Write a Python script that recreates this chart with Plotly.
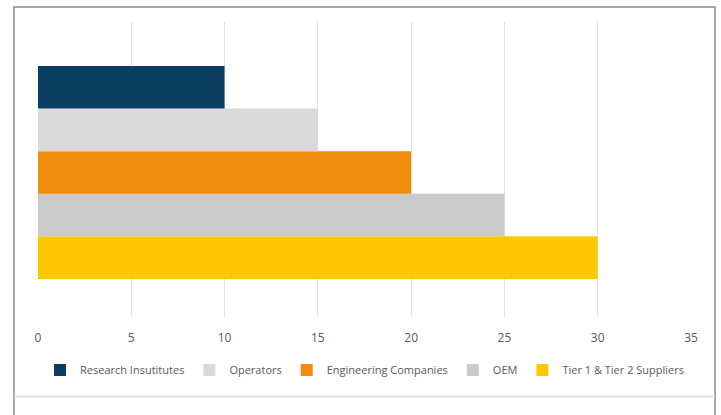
import plotly.graph_objects as go

series_names = ["Research Insutitutes", "Operators", "Engineering Companies", "OEM", "Tier 1 & Tier 2 Suppliers"]
series_values = [10, 15, 20, 25, 30]
series_colors = ["#0a3d62", "#d9d9d9", "#f08c0c", "#cbcacb", "#fec800"]
category = [""]
x_ticks = [0, 5, 10, 15, 20, 25, 30, 35]

fig = go.Figure()
# add in reverse so the first series sits at the top
for name, val, col in reversed(list(zip(series_names, series_values, series_colors))):
    fig.add_trace(go.Bar(
        y=category, x=[val], name=name, orientation="h",
        marker=dict(color=col, line=dict(width=0)),
    ))

W, H = 721, 415
L, R, T, B = 38, 30, 22, 98
pw, ph = W - L - R, H - T - B

def px(x):
    return (x - L) / pw

def py(y):
    return (H - B - y) / ph

fig.update_layout(
    width=W, height=H,
    margin=dict(l=L, r=R, t=T, b=B),
    paper_bgcolor="white", plot_bgcolor="white",
    barmode="group", bargap=0.278, bargroupgap=0,
    font=dict(family="Open Sans, Segoe UI, sans-serif", color="#595959", size=11),
    showlegend=True,
    legend=dict(orientation="h", traceorder="reversed", x=0.5, xanchor="center",
                y=py(370), yanchor="middle", font=dict(size=11, color="#595959"),
                itemwidth=30, bgcolor="rgba(0,0,0,0)"),
    xaxis=dict(range=[0, 35], tickvals=x_ticks, showgrid=True, gridcolor="#e3e3e3",
               gridwidth=1, zeroline=False, showline=False, ticks="",
               tickfont=dict(size=12, color="#595959"), ticklabelstandoff=12),
    yaxis=dict(range=[-0.49, 0.51], showticklabels=False, showgrid=False,
               zeroline=False, showline=False, ticks=""),
    shapes=[
        dict(type="path", xref="paper", yref="paper",
             path=f"M {px(14)} {py(430)} L {px(14)} {py(7)} L {px(715)} {py(7)} L {px(715)} {py(430)}",
             line=dict(color="#8a8a8a", width=1.5), layer="above"),
        dict(type="line", xref="paper", yref="paper",
             x0=px(14), x1=px(715), y0=py(396.5), y1=py(396.5),
             line=dict(color="#dddddd", width=1.5), layer="above"),
    ],
)

fig.write_html("out.html", config={"displayModeBar": False},
               post_script="document.body.style.margin='0';")
